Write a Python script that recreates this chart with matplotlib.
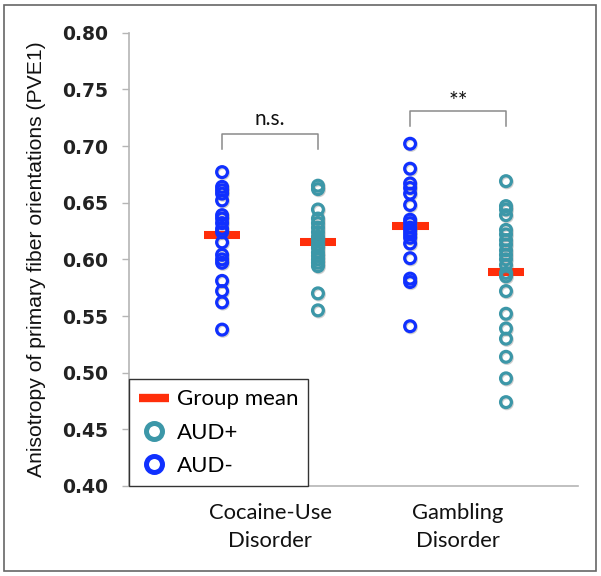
import matplotlib
matplotlib.use("Agg")
import matplotlib.pyplot as plt
from matplotlib.lines import Line2D
from matplotlib.patches import Rectangle
import matplotlib.patheffects as pe
import numpy as np

# ---------------- data ----------------
categories = ["Cocaine-Use\nDisorder", "Gambling\nDisorder"]
cocaine_aud_minus = [0.677, 0.664, 0.661, 0.658, 0.652, 0.639, 0.636, 0.632, 0.627,
                     0.624, 0.615, 0.604, 0.600, 0.597, 0.581, 0.572, 0.562, 0.538]
cocaine_aud_plus = [0.665, 0.662, 0.644, 0.636, 0.632, 0.628, 0.624, 0.620, 0.617,
                    0.613, 0.610, 0.606, 0.603, 0.600, 0.597, 0.594, 0.570, 0.555]
gambling_aud_minus = [0.702, 0.680, 0.667, 0.663, 0.658, 0.648, 0.635, 0.632, 0.628,
                      0.625, 0.622, 0.619, 0.614, 0.601, 0.583, 0.580, 0.541]
gambling_aud_plus = [0.669, 0.647, 0.644, 0.639, 0.626, 0.622, 0.617, 0.613, 0.608,
                     0.604, 0.600, 0.595, 0.588, 0.585, 0.572, 0.552, 0.539, 0.530,
                     0.514, 0.495, 0.474]
means_aud_minus = [0.6215, 0.629]
means_aud_plus = [0.6155, 0.589]
significance = ["n.s.", "**"]
yticks = [0.40, 0.45, 0.50, 0.55, 0.60, 0.65, 0.70, 0.75, 0.80]

# ---------------- style ----------------
BLUE = "#1030ff"
TEAL = "#3c97a8"
RED = "#ff2e0a"
GRAY = "#b5b5b5"
OFF = 0.255

fig = plt.figure(figsize=(6.01, 5.76), dpi=100)
ax = fig.add_axes([129/601, 1-486/576, (578-129)/601, (486-32.7)/576])

x = np.arange(1, len(categories) + 1)
minus_sets = [cocaine_aud_minus, gambling_aud_minus]
plus_sets = [cocaine_aud_plus, gambling_aud_plus]

shadow = [pe.SimpleLineShadow(offset=(0.6, -0.8), shadow_color="#777777", alpha=0.35), pe.Normal()]

half = 0.098
for i, xi in enumerate(x):
    ax.hlines(means_aud_minus[i], xi - OFF - half, xi - OFF + half, color=RED, lw=5.8, zorder=2)
    ax.hlines(means_aud_plus[i], xi + OFF - half, xi + OFF + half, color=RED, lw=5.8, zorder=2)
    ax.plot([xi - OFF] * len(minus_sets[i]), minus_sets[i], ls="none", marker="o", ms=7.8,
            mew=2.3, mfc="none", mec=BLUE, zorder=3, path_effects=shadow)
    ax.plot([xi + OFF] * len(plus_sets[i]), plus_sets[i], ls="none", marker="o", ms=7.8,
            mew=2.3, mfc="none", mec=TEAL, zorder=3, path_effects=shadow)

# significance brackets
br_top = [0.7106, 0.7312]
br_leg = 0.0135
txt_y = [0.7185, 0.7395]
txt_va = ["baseline", "center"]
txt_size = [15, 16.5]
for i, xi in enumerate(x):
    t = br_top[i]
    ax.plot([xi - OFF, xi - OFF, xi + OFF, xi + OFF], [t - br_leg, t, t, t - br_leg],
            color="#8a8a8a", lw=1.1, zorder=1)
    ax.text(xi, txt_y[i], significance[i], ha="center", va=txt_va[i], fontsize=txt_size[i],
            family="Lato", color="#111111")

ax.set_xlim(0.25, 2.638)
ax.set_ylim(0.40, 0.80)
ax.set_yticks(yticks)
ax.set_yticklabels([f"{v:.2f}" for v in yticks], fontsize=13.5, fontweight="bold",
                   family="DejaVu Sans", color="#222222")
ax.set_xticks(x)
ax.set_xticklabels(categories, fontsize=15.8, family="Lato", color="#111111",
                   linespacing=1.5)
ax.tick_params(axis="x", length=0, pad=12)
ax.tick_params(axis="y", length=5, width=1, color=GRAY, pad=10)

for s in ["top", "right"]:
    ax.spines[s].set_visible(False)
for s in ["left", "bottom"]:
    ax.spines[s].set_color(GRAY)
    ax.spines[s].set_linewidth(1.2)

ax.set_ylabel("Anisotropy of primary fiber orientations (PVE1)", fontsize=15.2,
              family="Liberation Sans", color="#111111", va="center")
ax.yaxis.set_label_coords((37 - 129) / 449, 0.5)

handles = [
    Line2D([], [], color=RED, lw=6, solid_capstyle="butt"),
    Line2D([], [], ls="none", marker="o", ms=11.5, mew=3.6, mfc="none", mec=TEAL),
    Line2D([], [], ls="none", marker="o", ms=11.5, mew=3.6, mfc="none", mec=BLUE),
]
leg = ax.legend(handles, ["Group mean", "AUD+", "AUD-"], loc="lower left",
                bbox_to_anchor=(0, 0), borderaxespad=0, fancybox=False,
                framealpha=1, edgecolor="#333333", prop={"family": "Lato", "size": 16.0},
                handlelength=1.35, handletextpad=0.35, labelspacing=0.6, borderpad=0.45)
leg.get_frame().set_linewidth(1.0)
leg.set_zorder(5)

fig.patches.append(Rectangle((4/601, 5/576), 592/601, 566/576, transform=fig.transFigure,
                             fill=False, edgecolor="#666666", lw=1.2))

fig.savefig("out.png", dpi=100)
